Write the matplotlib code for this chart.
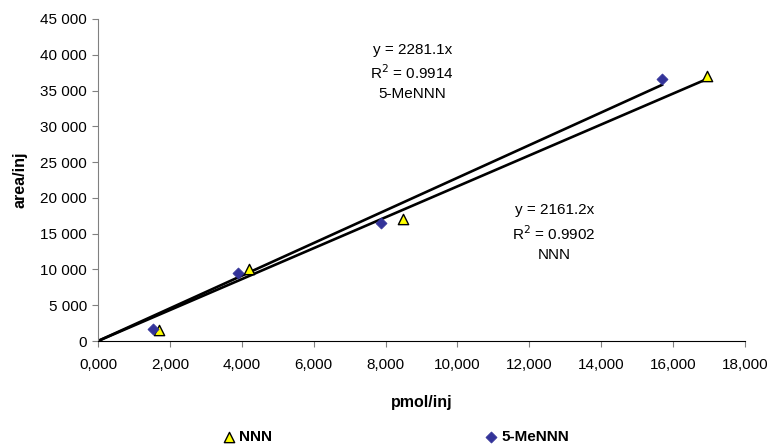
import matplotlib.pyplot as plt
import numpy as np
from matplotlib.ticker import FuncFormatter, MultipleLocator

plt.rcParams["font.family"] = ["Liberation Sans", "DejaVu Sans"]

# measured points (pmol/inj, area/inj)
nnn_x = [1.70, 4.20, 8.49, 16.94]
nnn_y = [1550, 10050, 17050, 37100]
me_x = [1.54, 3.90, 7.87, 15.69]
me_y = [1680, 9450, 16550, 36600]

# trendline slopes (through origin) as printed on the chart
nnn_slope = 2161.2
me_slope = 2281.1
nnn_r2 = 0.9902
me_r2 = 0.9914


def y_fmt(value, pos):
    return f"{int(value):,}".replace(",", " ")


def x_fmt(value, pos):
    return f"{value:.3f}".replace(".", ",")


fig = plt.figure(figsize=(7.72, 4.44), dpi=100)
ax = fig.add_axes([98 / 772, 1 - 341 / 444, (745 - 98) / 772, (341 - 19) / 444])

# trendlines
line_x = np.array([0, max(me_x)])
ax.plot(line_x, me_slope * line_x, color="black", lw=1.9, zorder=2)
line_x = np.array([0, max(nnn_x)])
ax.plot(line_x, nnn_slope * line_x, color="black", lw=1.9, zorder=2)

ax.scatter(nnn_x, nnn_y, marker="^", s=55, color="#FFFF00", edgecolor="black",
           linewidth=1.0, label="NNN", zorder=3)
ax.scatter(me_x, me_y, marker="D", s=32, color="#333399", edgecolor="#333399",
           linewidth=0.5, label="5-MeNNN", zorder=3)

ax.set_xlim(0, 18)
ax.set_ylim(0, 45000)
ax.xaxis.set_major_locator(MultipleLocator(2))
ax.yaxis.set_major_locator(MultipleLocator(5000))
ax.xaxis.set_major_formatter(FuncFormatter(x_fmt))
ax.yaxis.set_major_formatter(FuncFormatter(y_fmt))
ax.tick_params(axis="both", direction="out", length=4, width=0.8, color="#808080",
               labelsize=11, pad=4)
ax.tick_params(axis="x", pad=8)
for side in ("top", "right"):
    ax.spines[side].set_visible(False)
ax.spines["left"].set_color("#808080")
ax.spines["bottom"].set_color("black")

ax.set_xlabel("pmol/inj", fontsize=11.5, fontweight="bold", labelpad=17)
ax.set_ylabel("area/inj", fontsize=11.5, fontweight="bold", labelpad=9)

ax.text(8.74, 37600, f"y = {me_slope}x\nR$^2$ = {me_r2}\n5-MeNNN", ha="center",
        va="center", fontsize=11, linespacing=1.45)
ax.text(12.69, 15200, f"y = {nnn_slope}x\nR$^2$ = {nnn_r2}\nNNN", ha="center",
        va="center", fontsize=11, linespacing=1.45)

fig.legend(loc="lower center", bbox_to_anchor=(0.511, -0.032), ncol=2, frameon=False,
           prop={"weight": "bold", "size": 11}, handletextpad=0.1,
           columnspacing=13.7, handlelength=1.2)

fig.savefig("out.png", dpi=100)
